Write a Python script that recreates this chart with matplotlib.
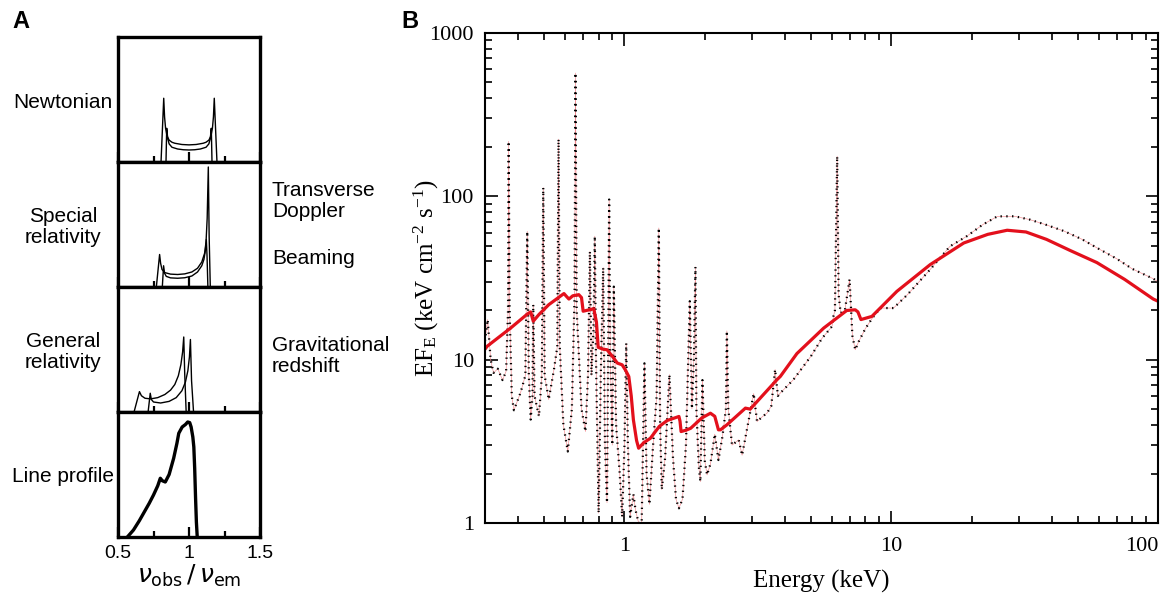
import numpy as np
import matplotlib.pyplot as plt
from matplotlib.ticker import FixedLocator, NullFormatter, LogLocator

plt.rcParams['mathtext.fontset'] = 'custom'
plt.rcParams['mathtext.rm'] = 'Liberation Serif'
plt.rcParams['mathtext.it'] = 'Liberation Serif:italic'

# ---- panel A: line profiles (x = nu_obs/nu_em, y = relative flux) ----
newt_outer_x = [0.803, 0.822, 0.828, 0.835, 0.845, 0.86, 0.88, 0.90, 0.95, 1.00,
                1.05, 1.10, 1.12, 1.14, 1.155, 1.165, 1.172, 1.178, 1.197]
newt_outer_y = [0.0, 0.51, 0.36, 0.27, 0.21, 0.175, 0.158, 0.150, 0.140, 0.137,
                0.140, 0.150, 0.158, 0.175, 0.21, 0.27, 0.36, 0.51, 0.0]
newt_inner_x = [0.838, 0.843, 0.85, 0.86, 0.88, 0.92, 0.96, 1.00, 1.04, 1.08, 1.12, 1.14, 1.15, 1.157, 1.162]
newt_inner_y = [0.0, 0.27, 0.19, 0.145, 0.118, 0.104, 0.098, 0.096, 0.098, 0.104, 0.118, 0.145, 0.19, 0.27, 0.0]

sr_outer_x = [0.770, 0.793, 0.80, 0.81, 0.83, 0.87, 0.92, 0.97, 1.02, 1.06, 1.09, 1.11, 1.12, 1.128, 1.136, 1.142, 1.150]
sr_outer_y = [0.0, 0.26, 0.19, 0.14, 0.115, 0.103, 0.10, 0.105, 0.12, 0.15, 0.20, 0.27, 0.36, 0.55, 0.96, 0.40, 0.0]
sr_inner_x = [0.812, 0.821, 0.828, 0.84, 0.87, 0.92, 0.97, 1.02, 1.06, 1.09, 1.105, 1.115, 1.122, 1.127, 1.133]
sr_inner_y = [0.0, 0.17, 0.11, 0.085, 0.073, 0.070, 0.074, 0.088, 0.12, 0.17, 0.22, 0.29, 0.38, 0.25, 0.0]

gr_outer_x = [0.613, 0.651, 0.665, 0.69, 0.73, 0.78, 0.83, 0.87, 0.90, 0.925, 0.943, 0.955, 0.963, 0.970, 0.980]
gr_outer_y = [0.0, 0.163, 0.13, 0.11, 0.105, 0.115, 0.14, 0.175, 0.22, 0.29, 0.38, 0.48, 0.60, 0.30, 0.0]
gr_inner_x = [0.712, 0.727, 0.735, 0.75, 0.80, 0.86, 0.91, 0.95, 0.975, 0.992, 1.003, 1.010, 1.018, 1.032]
gr_inner_y = [0.0, 0.15, 0.10, 0.08, 0.072, 0.085, 0.115, 0.17, 0.24, 0.33, 0.44, 0.58, 0.25, 0.0]

prof_x = [0.566, 0.609, 0.65, 0.68, 0.72, 0.75, 0.78, 0.798, 0.812, 0.833, 0.86, 0.892, 0.915,
          0.928, 0.952, 0.975, 0.991, 1.005, 1.015, 1.027, 1.034, 1.040, 1.046, 1.052, 1.058]
prof_y = [0.0, 0.056, 0.13, 0.19, 0.27, 0.336, 0.41, 0.47, 0.45, 0.44, 0.50, 0.63, 0.75,
          0.83, 0.88, 0.90, 0.92, 0.915, 0.88, 0.80, 0.72, 0.55, 0.32, 0.12, 0.0]

left_labels = ['Newtonian', 'Special\nrelativity', 'General\nrelativity', 'Line profile']

# ---- panel B: X-ray spectrum ----
spec_E = [0.300, 0.307, 0.315, 0.323, 0.335, 0.349, 0.360, 0.366, 0.368, 0.371, 0.378, 0.385,
          0.408, 0.425, 0.432, 0.438, 0.445, 0.452, 0.455, 0.460, 0.478, 0.490, 0.496, 0.502,
          0.520, 0.544, 0.560, 0.566, 0.572, 0.590, 0.613, 0.635, 0.650, 0.655, 0.662, 0.690,
          0.714, 0.730, 0.742, 0.752, 0.765, 0.774, 0.782, 0.800, 0.815, 0.832, 0.845, 0.860,
          0.868, 0.876, 0.885, 0.900, 0.912, 0.930, 0.960, 0.980, 1.000, 1.015, 1.030, 1.050,
          1.080, 1.100, 1.130, 1.160, 1.188, 1.210, 1.240, 1.280, 1.320, 1.345, 1.360, 1.380,
          1.420, 1.474, 1.520, 1.560, 1.600, 1.650, 1.700, 1.757, 1.790, 1.820, 1.845, 1.860,
          1.900, 1.925, 1.960, 2.000, 2.040, 2.100, 2.180, 2.250, 2.330, 2.400, 2.420, 2.450,
          2.530, 2.680, 2.760, 2.900, 3.050, 3.140, 3.300, 3.420, 3.550, 3.670, 3.760, 3.840,
          4.300, 5.000, 5.500, 6.000, 6.070, 6.150, 6.270, 6.350, 6.460, 6.700, 6.980, 7.150,
          7.330, 7.550, 8.000, 8.500, 9.100, 10.20, 11.50, 14.00, 16.60, 19.20, 22.00, 25.00,
          29.00, 33.00, 38.00, 44.40, 52.00, 59.00, 70.00, 80.00, 96.00, 100.0]
spec_F = [13.0, 17.6, 10.0, 8.3, 8.8, 7.5, 8.5, 20.0, 217.0, 20.0, 6.0, 4.9,
          6.3, 8.0, 61.0, 8.0, 4.3, 6.0, 21.7, 6.0, 4.5, 8.0, 113.0, 8.0,
          5.7, 8.7, 12.0, 224.0, 12.0, 4.0, 2.74, 5.0, 25.0, 569.0, 20.0, 5.0,
          3.63, 8.0, 46.0, 8.0, 15.0, 57.0, 10.0, 1.15, 8.0, 36.6, 3.0, 1.33,
          10.0, 95.6, 10.0, 3.0, 28.0, 4.0, 2.0, 1.09, 3.0, 12.6, 3.0, 1.09,
          1.5, 1.2, 1.0, 1.0, 9.5, 2.0, 1.3, 3.0, 6.0, 64.0, 4.0, 1.6,
          2.5, 8.1, 2.5, 1.4, 1.23, 1.4, 3.0, 22.8, 5.0, 10.0, 37.0, 5.0,
          2.2, 1.79, 7.5, 2.4, 1.97, 2.3, 3.5, 2.43, 3.4, 5.0, 15.0, 5.0,
          3.0, 3.23, 2.6, 4.0, 6.2, 4.18, 4.5, 4.7, 5.2, 8.7, 6.0, 6.25,
          7.55, 10.5, 13.5, 16.0, 18.4, 20.0, 176.0, 25.0, 19.3, 20.0, 31.0, 14.0,
          11.5, 12.9, 15.5, 18.0, 20.7, 20.7, 25.0, 35.7, 49.4, 57.0, 67.0, 75.4,
          75.5, 72.1, 67.0, 61.3, 54.5, 48.4, 41.5, 36.0, 31.3, 30.0]

model_E = [0.300, 0.306, 0.374, 0.432, 0.445, 0.455, 0.478, 0.520, 0.593, 0.606, 0.619, 0.640,
           0.674, 0.690, 0.700, 0.767, 0.785, 0.797, 0.830, 0.860, 0.900, 0.940, 0.980, 1.010,
           1.038, 1.060, 1.080, 1.110, 1.130, 1.180, 1.250, 1.350, 1.445, 1.600, 1.615, 1.630,
           1.700, 1.770, 1.950, 2.100, 2.180, 2.250, 2.290, 2.420, 2.840, 2.960, 3.730, 3.840,
           4.430, 5.580, 6.810, 7.330, 7.500, 7.700, 8.460, 10.50, 14.00, 18.70, 23.00, 27.20,
           32.00, 38.20, 47.00, 59.00, 75.00, 96.00, 100.0]
model_F = [11.6, 12.1, 15.6, 19.0, 19.6, 17.2, 18.9, 21.7, 25.4, 24.4, 23.5, 24.6,
           25.0, 24.0, 19.8, 20.5, 17.0, 11.9, 11.6, 11.5, 10.5, 9.53, 9.3, 8.6,
           7.88, 6.0, 4.28, 3.2, 2.87, 3.1, 3.3, 3.9, 4.24, 4.49, 4.2, 3.63,
           3.7, 3.8, 4.4, 4.7, 4.5, 3.72, 3.72, 3.99, 5.05, 4.98, 7.54, 7.9,
           10.9, 15.6, 20.0, 20.2, 19.6, 17.6, 18.4, 26.2, 38.2, 51.8, 58.5, 62.0,
           60.5, 54.5, 46.5, 39.3, 31.0, 23.5, 22.8]

fig = plt.figure(figsize=(11.69, 5.97), dpi=100)
W, H = 1169.0, 597.0

# panel A: four stacked boxes
tops = [37, 162, 287, 412]
curves = [[(newt_outer_x, newt_outer_y), (newt_inner_x, newt_inner_y)],
          [(sr_outer_x, sr_outer_y), (sr_inner_x, sr_inner_y)],
          [(gr_outer_x, gr_outer_y), (gr_inner_x, gr_inner_y)],
          [(prof_x, prof_y)]]
for i, top in enumerate(tops):
    ax = fig.add_axes([118 / W, 1 - (top + 125) / H, 142 / W, 125 / H])
    for cx, cy in curves[i]:
        ax.plot(cx, cy, color='black', lw=2.4 if i == 3 else 1.0, solid_joinstyle='round')
    ax.set_xlim(0.5, 1.5)
    ax.set_ylim(0, 1)
    ax.set_yticks([])
    ax.xaxis.set_major_locator(FixedLocator([0.5, 1.0, 1.5]))
    ax.xaxis.set_minor_locator(FixedLocator([0.75, 1.25]))
    ax.tick_params(axis='x', which='major', direction='in', length=7, width=1.6)
    ax.tick_params(axis='x', which='minor', direction='in', length=4, width=1.6)
    for s in ax.spines.values():
        s.set_linewidth(2.4)
    if i == 3:
        ax.set_xticklabels(['0.5', '1', '1.5'], fontsize=14, family='Liberation Sans')
        ax.tick_params(axis='x', which='major', pad=6)
        ax.set_xlabel(r'$\nu_{\mathrm{obs}}\,/\,\nu_{\mathrm{em}}$', fontsize=18, labelpad=0,
                      math_fontfamily='dejavusans')
    else:
        ax.set_xticklabels([])
    fig.text(63 / W, 1 - (top + 65) / H, left_labels[i], ha='center', va='center',
             fontsize=15, family='Liberation Sans', linespacing=1.1)

fig.text(272 / W, 1 - 201 / H, 'Transverse\nDoppler', ha='left', va='center',
         fontsize=15, family='Liberation Sans', linespacing=1.1)
fig.text(272 / W, 1 - 259 / H, 'Beaming', ha='left', va='center',
         fontsize=15, family='Liberation Sans')
fig.text(272 / W, 1 - 356 / H, 'Gravitational\nredshift', ha='left', va='center',
         fontsize=15, family='Liberation Sans', linespacing=1.1)
fig.text(12 / W, 1 - 22 / H, 'A', ha='left', va='center', fontsize=17,
         fontweight='bold', family='Liberation Sans')
fig.text(401 / W, 1 - 22 / H, 'B', ha='left', va='center', fontsize=17,
         fontweight='bold', family='Liberation Sans')

# panel B: spectrum
axb = fig.add_axes([485 / W, 1 - 523 / H, 673 / W, 490 / H])
axb.plot(spec_E, spec_F, color='#f3888e', lw=0.45)
axb.plot(spec_E, spec_F, color='black', lw=1.6, linestyle=(0, (0.6, 2.0)))
axb.plot(model_E, model_F, color='#e3101c', lw=2.3, solid_joinstyle='round')
axb.set_xscale('log')
axb.set_yscale('log')
axb.set_xlim(0.3, 100)
axb.set_ylim(1, 1000)
axb.xaxis.set_minor_locator(LogLocator(base=10, subs=np.arange(2, 10)))
axb.yaxis.set_minor_locator(LogLocator(base=10, subs=np.arange(2, 10)))
axb.xaxis.set_minor_formatter(NullFormatter())
axb.yaxis.set_minor_formatter(NullFormatter())
axb.set_xticks([1, 10, 100])
axb.set_xticklabels(['1', '10', '100'])
axb.set_yticks([1, 10, 100, 1000])
axb.set_yticklabels(['1', '10', '100', '1000'])
axb.tick_params(which='both', direction='in', top=True, right=True, width=1.2)
axb.tick_params(which='major', length=9, labelsize=16, pad=8)
axb.tick_params(axis='x', which='major', pad=10)
axb.tick_params(which='minor', length=5)
for lab in axb.get_xticklabels() + axb.get_yticklabels():
    lab.set_family('Liberation Serif')
axb.get_xticklabels()[-1].set_ha('right')
for s in axb.spines.values():
    s.set_linewidth(1.5)
axb.set_xlabel('Energy (keV)', fontsize=18, family='Liberation Serif', labelpad=10)
axb.set_ylabel(r'EF$_{\mathrm{E}}$ (keV cm$^{\mathrm{-2}}$ s$^{\mathrm{-1}}$)', fontsize=18,
               family='Liberation Serif')
axb.yaxis.set_label_coords(-0.066, 0.5)

fig.savefig('out.png', dpi=100)
